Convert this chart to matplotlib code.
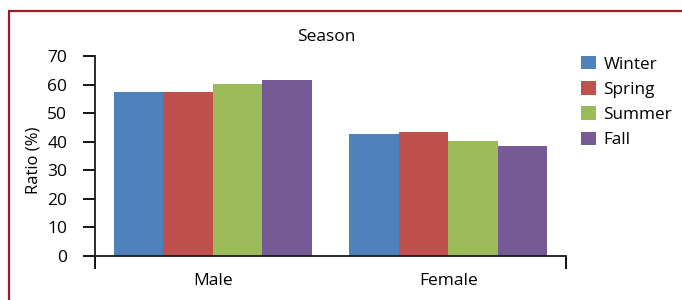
import matplotlib
matplotlib.use("Agg")
import matplotlib.pyplot as plt
from matplotlib.patches import Rectangle
import numpy as np

plt.rcParams['font.family'] = ['Open Sans', 'DejaVu Sans']

categories = ["Male", "Female"]
seasons = ["Winter", "Spring", "Summer", "Fall"]
winter = [57.4, 42.6]
spring = [57.4, 43.5]
summer = [60.1, 40.1]
fall = [61.6, 38.6]
series = [winter, spring, summer, fall]
colors = ["#4f81bd", "#c0504d", "#9bbb59", "#755a96"]
yticks = [0, 10, 20, 30, 40, 50, 60, 70]

fig = plt.figure(figsize=(6.82, 3.0), dpi=100)
ax = fig.add_axes([95/682, 44/300, (566-95)/682, 200/300])

x = np.arange(len(categories))
w = 0.21
for i, (name, vals) in enumerate(zip(seasons, series)):
    ax.bar(x + (i - 1.5) * w, vals, width=w, color=colors[i], label=name, zorder=2)

ax.set_xlim(-0.5, 1.5)
ax.set_ylim(0, 70)
ax.set_yticks(yticks)
ax.set_yticklabels([str(v) for v in yticks], fontsize=12.5)
ax.set_xticks([-0.5, 1.5])
ax.set_xticklabels(["", ""])
ax.set_xticks(x, minor=True)
ax.set_xticklabels(categories, minor=True, fontsize=12.5)
ax.tick_params(axis='x', which='minor', length=0, pad=12)
ax.tick_params(axis='x', which='major', length=9, width=1.3, direction='out')
ax.tick_params(axis='y', length=9, width=1.3, direction='out', pad=11)
for s in ['top', 'right']:
    ax.spines[s].set_visible(False)
for s in ['left', 'bottom']:
    ax.spines[s].set_linewidth(1.3)
    ax.spines[s].set_color('#1a1a1a')

fig.text(33/682, 1 - 160/300, "Ratio (%)", rotation=90, ha='center', va='center', fontsize=12)
fig.text(326/682, 1 - 37/300, "Season", ha='center', va='center', fontsize=12.5)

leg = fig.legend(loc='upper left', bbox_to_anchor=(574/682, 1 - 49/300), frameon=False,
                 fontsize=12.3, handlelength=0.88, handleheight=0.85, handletextpad=0.45,
                 labelspacing=0.5, borderaxespad=0)

fig.patches.append(Rectangle((9/682, -0.2), 2.0, 1.2 - 10.5/300, transform=fig.transFigure,
                             fill=False, edgecolor='#9b1c22', linewidth=1.6, zorder=10))

fig.savefig("out.png", dpi=100)
